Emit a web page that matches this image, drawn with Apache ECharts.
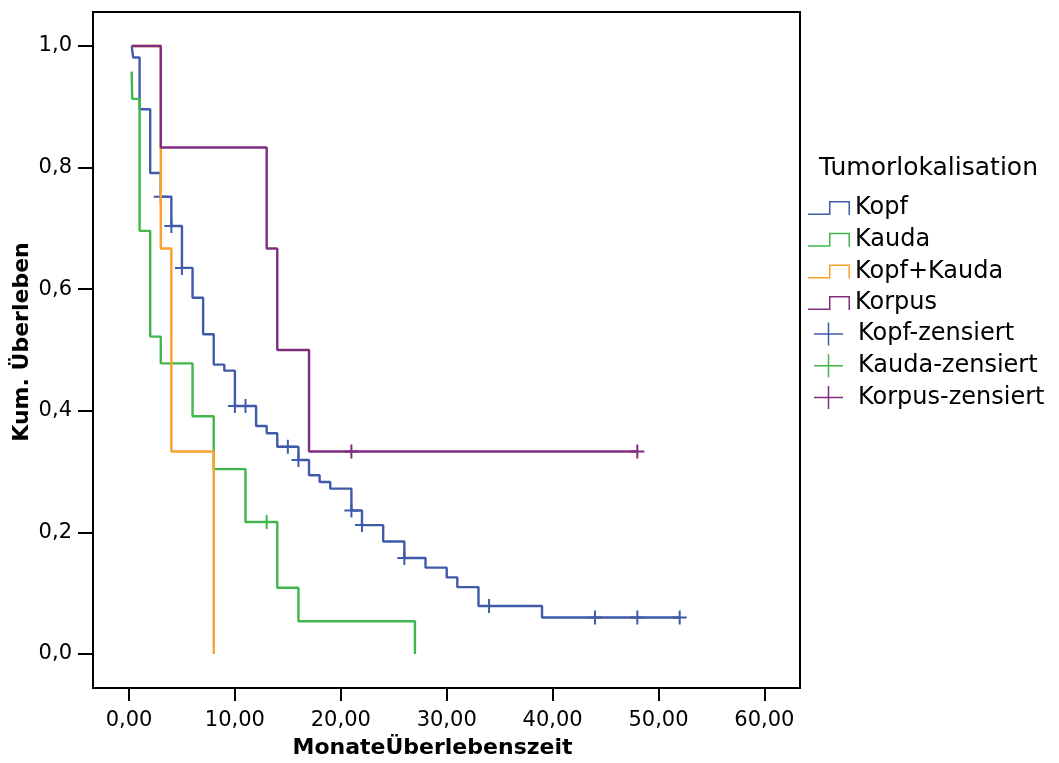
<!DOCTYPE html>
<html>
<head>
<meta charset="utf-8">
<script src="https://cdn.jsdelivr.net/npm/echarts@6/dist/echarts.min.js"></script>
<style>html,body{margin:0;padding:0;background:#fff;}#c{width:1059px;height:763px;}</style>
</head>
<body>
<div id="c"></div>
<script>
// ---- data (months, cumulative survival) ----
const xTicks = [0, 10, 20, 30, 40, 50, 60];
const yTicks = [0, 0.2, 0.4, 0.6, 0.8, 1.0];

const kopfTimes  = [0.25, 0.4, 1, 2, 3, 4, 5, 6, 7, 8, 9, 10, 12, 13, 14, 16, 17, 18, 19, 21, 22, 24, 26, 28, 30, 31, 33, 39, 52];
const kopfSurv   = [1.0, 0.981, 0.896, 0.791, 0.752, 0.704, 0.635, 0.586, 0.526, 0.476, 0.466, 0.408, 0.375, 0.363, 0.341, 0.319, 0.294, 0.283, 0.272, 0.236, 0.212, 0.185, 0.158, 0.142, 0.126, 0.110, 0.079, 0.060, 0.060];

const kaudaTimes = [0.25, 0.3, 1, 2, 3, 6, 8, 11, 14, 16, 27];
const kaudaSurv  = [0.958, 0.913, 0.696, 0.522, 0.478, 0.391, 0.304, 0.217, 0.109, 0.054, 0.0];

const kopfKaudaTimes = [0.25, 3, 4, 8];
const kopfKaudaSurv  = [1.0, 0.667, 0.333, 0.0];

const korpusTimes = [0.25, 3, 13, 14, 17, 48];
const korpusSurv  = [1.0, 0.833, 0.667, 0.5, 0.333, 0.333];

const kopfCensTimes = [3, 4, 5, 10, 11, 15, 16, 21, 22, 26, 34, 44, 48, 52];
const kopfCensSurv  = [0.752, 0.704, 0.635, 0.408, 0.408, 0.341, 0.319, 0.236, 0.212, 0.158, 0.079, 0.060, 0.060, 0.060];

const kaudaCensTimes = [13];
const kaudaCensSurv  = [0.217];

const korpusCensTimes = [21, 48];
const korpusCensSurv  = [0.333, 0.333];

const names = ['Kopf', 'Kauda', 'Kopf+Kauda', 'Korpus'];
const censNames = ['Kopf-zensiert', 'Kauda-zensiert', 'Korpus-zensiert'];
const colors = { blue: '#3f5aa9', green: '#41b64d', orange: '#f9a02d', purple: '#7f2d7f' };

// ---- helpers ----
const zip = (a, b) => a.map((v, i) => [v, b[i]]);
const FONT = 'DejaVu Sans';
const stepIcon = 'path://M0,12.5H21V0H42V14H40.5V1.5H22.5V14H0Z';
const crossSym = 'path://M6,0H8V6H14V8H8V14H6V8H0V6H6Z';
const crossIcon = 'path://M13.75,0H15.25V10.75H29V12.25H15.25V23H13.75V12.25H0V10.75H13.75Z';

function stepSeries(name, times, surv, color) {
  return {
    name: name, type: 'line', step: 'end', data: zip(times, surv),
    showSymbol: false, symbol: 'none', silent: true,
    lineStyle: { color: color, width: 2.4 }, itemStyle: { color: color },
    emphasis: { disabled: true }
  };
}
function censSeries(name, times, surv, color) {
  return {
    name: name, type: 'scatter', data: zip(times, surv),
    symbol: crossSym, symbolSize: 14, silent: true,
    itemStyle: { color: color, opacity: 1 }, emphasis: { disabled: true }
  };
}

const chart = echarts.init(document.getElementById('c'), null, { renderer: 'canvas' });
chart.setOption({
  backgroundColor: '#fff',
  animation: false,
  title: {
    text: 'Tumorlokalisation', left: 819, top: 156, padding: 0,
    textStyle: { fontFamily: FONT, fontSize: 25, fontWeight: 'normal', color: '#000' }
  },
  legend: [
    {
      orient: 'vertical', left: 808, top: 196, padding: 0,
      itemWidth: 42, itemHeight: 14, itemGap: 7.7, selectedMode: false,
      itemStyle: { borderWidth: 0, opacity: 1 },
      textStyle: { fontFamily: FONT, fontSize: 24, lineHeight: 24, color: '#000' },
      data: names.map(n => ({ name: n, icon: stepIcon }))
    },
    {
      orient: 'vertical', left: 814, top: 322, padding: 0,
      itemWidth: 29, itemHeight: 23, itemGap: 7.7, selectedMode: false,
      itemStyle: { borderWidth: 0, opacity: 1 },
      textStyle: { fontFamily: FONT, fontSize: 24, lineHeight: 24, color: '#000', padding: [0, 0, 0, 10] },
      data: censNames.map(n => ({ name: n, icon: crossIcon }))
    }
  ],
  grid: {
    left: 93, right: 259, top: 12, bottom: 75,
    containLabel: false, outerBoundsMode: 'none',
    show: true, borderColor: '#000', borderWidth: 2, backgroundColor: '#fff'
  },
  xAxis: {
    type: 'value', min: -3.4, max: 63.36,
    name: 'MonateÜberlebenszeit', nameLocation: 'middle', nameGap: 49, nameMoveOverlap: false,
    nameTextStyle: { fontFamily: FONT, fontSize: 22, fontWeight: 'bold', color: '#000', padding: [0, 28, 0, 0] },
    axisLine: { show: false, onZero: false },
    axisTick: { show: true, customValues: xTicks, length: 13, lineStyle: { color: '#000', width: 2 } },
    axisLabel: {
      customValues: xTicks, margin: 22, color: '#000', fontFamily: FONT, fontSize: 21,
      formatter: v => v.toFixed(2).replace('.', ',')
    },
    splitLine: { show: false }
  },
  yAxis: {
    type: 'value', min: -0.0559, max: 1.0559,
    name: 'Kum. Überleben', nameLocation: 'middle', nameGap: 60, nameMoveOverlap: false,
    nameTextStyle: { fontFamily: FONT, fontSize: 22, fontWeight: 'bold', color: '#000', padding: [0, 0, 0, 16] },
    axisLine: { show: false, onZero: false },
    axisTick: { show: true, customValues: yTicks, length: 15, lineStyle: { color: '#000', width: 2 } },
    axisLabel: {
      customValues: yTicks, margin: 21, color: '#000', fontFamily: FONT, fontSize: 21,
      formatter: v => v.toFixed(1).replace('.', ',')
    },
    splitLine: { show: false }
  },
  series: [
    stepSeries(names[0], kopfTimes, kopfSurv, colors.blue),
    stepSeries(names[1], kaudaTimes, kaudaSurv, colors.green),
    stepSeries(names[2], kopfKaudaTimes, kopfKaudaSurv, colors.orange),
    stepSeries(names[3], korpusTimes, korpusSurv, colors.purple),
    censSeries(censNames[0], kopfCensTimes, kopfCensSurv, colors.blue),
    censSeries(censNames[1], kaudaCensTimes, kaudaCensSurv, colors.green),
    censSeries(censNames[2], korpusCensTimes, korpusCensSurv, colors.purple)
  ]
});
</script>
</body>
</html>
